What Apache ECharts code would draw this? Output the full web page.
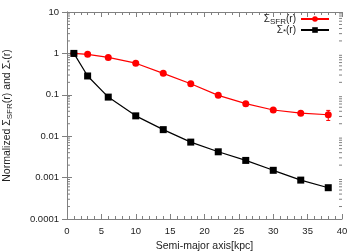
<!DOCTYPE html>
<html><head><meta charset="utf-8">
<script src="https://cdn.jsdelivr.net/npm/echarts@6/dist/echarts.min.js"></script>
<style>html,body{margin:0;padding:0;background:#fff}#c{width:360px;height:252px}</style>
</head><body><div id="c"></div>
<script>
const radius = [1, 3, 6, 10, 14, 18, 22, 26, 30, 34, 38];
const sigmaSFR = [1.0, 0.95, 0.80, 0.58, 0.33, 0.185, 0.097, 0.061, 0.043, 0.036, 0.033];
const sigmaSFRErr = [0, 0, 0, 0, 0, 0, 0, 0, 0.003, 0.004, 0.009];
const sigmaStar = [1.0, 0.285, 0.088, 0.031, 0.0144, 0.0072, 0.0042, 0.0026, 0.0015, 0.00087, 0.00057];
const yTickLabels = ['0.0001', '0.001', '0.01', '0.1', '1', '10'];
const xTicks = [0, 5, 10, 15, 20, 25, 30, 35, 40];

const FONT = '"Liberation Sans", Arial, sans-serif';
const AX = '#808080';
const TXT = '#222';

const minorVals = [];
for (let k = -4; k <= 0; k++) for (let m = 2; m <= 9; m++) minorVals.push([0, m * Math.pow(10, k)]);

const chart = echarts.init(document.getElementById('c'));
const axisBase = {
  axisLine: { show: true, lineStyle: { color: AX, width: 1 } },
  splitLine: { show: false }
};
const legRich = (pad) => ({ sub: { fontSize: 8, fontFamily: FONT, color: TXT, padding: [pad, 0, 0, 0] }, n: { fontSize: 10, fontFamily: FONT, color: TXT } });
chart.setOption({
  animation: false,
  grid: { left: 67, right: 18, top: 12, bottom: 33, containLabel: false, outerBoundsMode: 'none' },
  legend: [
    { data: ['sfr'], right: 30, top: 14, itemWidth: 28, itemHeight: 7, padding: 0,
      textStyle: { fontFamily: FONT, fontSize: 10, color: TXT, rich: legRich(5) },
      align: 'right', formatter: () => '{n|Σ}{sub|SFR}{n|(r)}' },
    { data: ['star'], right: 30, top: 25, itemWidth: 28, itemHeight: 7, padding: 0,
      textStyle: { fontFamily: FONT, fontSize: 10, color: TXT, rich: legRich(4) },
      align: 'right', formatter: () => '{n|Σ}{sub|*}{n|(r)}' }
  ],
  xAxis: [
    Object.assign({}, axisBase, {
      type: 'value', min: 0, max: 40, interval: 5, position: 'bottom',
      axisTick: { show: true, inside: true, length: 5, lineStyle: { color: AX } },
      minorTick: { show: true, splitNumber: 5, length: 3, lineStyle: { color: AX } },
      axisLabel: { fontFamily: FONT, fontSize: 9.5, color: TXT, margin: 7,
        formatter: v => xTicks.includes(v) ? String(v) : '' },
      name: 'Semi-major axis[kpc]', nameLocation: 'middle', nameGap: 20,
      nameTextStyle: { fontFamily: FONT, fontSize: 10.5, color: TXT }
    }),
    Object.assign({}, axisBase, {
      type: 'value', min: 0, max: 40, interval: 5, position: 'top',
      axisTick: { show: true, inside: true, length: 5, lineStyle: { color: AX } },
      minorTick: { show: true, splitNumber: 5, length: 3, lineStyle: { color: AX } },
      axisLabel: { show: false }
    })
  ],
  yAxis: [
    Object.assign({}, axisBase, {
      type: 'log', logBase: 10, min: 0.0001, max: 10, position: 'left',
      axisTick: { show: true, inside: true, length: 5, lineStyle: { color: AX } },
      axisLabel: { fontFamily: FONT, fontSize: 9.5, color: TXT, margin: 8,
        formatter: v => { const i = Math.round(Math.log10(v)) + 4; return yTickLabels[i] || ''; } },
      name: 'Normalized Σ{sub|SFR}(r) and Σ{sub|*}(r)', nameLocation: 'middle', nameGap: 53, nameRotate: 90,
      nameTextStyle: { fontFamily: FONT, fontSize: 10.5, color: TXT,
        rich: { sub: { fontSize: 8, fontFamily: FONT, color: TXT, padding: [5, 0, 0, 0] } } }
    }),
    Object.assign({}, axisBase, {
      type: 'log', logBase: 10, min: 0.0001, max: 10, position: 'right',
      axisTick: { show: true, inside: true, length: 5, lineStyle: { color: AX } },
      axisLabel: { show: false }
    })
  ],
  series: [
    {
      name: 'minor', type: 'custom', silent: true, z: 1,
      data: minorVals, encode: { x: 0, y: 1 },
      renderItem: (params, api) => {
        const cs = params.coordSys;
        const y = api.coord([0, api.value(1)])[1];
        const st = { stroke: AX, lineWidth: 1 };
        return { type: 'group', children: [
          { type: 'line', shape: { x1: cs.x, y1: y, x2: cs.x + 3, y2: y }, style: st },
          { type: 'line', shape: { x1: cs.x + cs.width - 3, y1: y, x2: cs.x + cs.width, y2: y }, style: st }
        ] };
      }
    },
    {
      name: 'sfrErr', type: 'custom', z: 3,
      data: radius.map((r, i) => [r, sigmaSFR[i] - sigmaSFRErr[i], sigmaSFR[i] + sigmaSFRErr[i]]),
      encode: { x: 0, y: [1, 2] },
      renderItem: (params, api) => {
        const x = api.value(0);
        const lo = api.coord([x, api.value(1)]);
        const hi = api.coord([x, api.value(2)]);
        const st = { stroke: '#ff0000', lineWidth: 1 };
        return { type: 'group', children: [
          { type: 'line', shape: { x1: lo[0], y1: lo[1], x2: hi[0], y2: hi[1] }, style: st },
          { type: 'line', shape: { x1: lo[0] - 2, y1: lo[1], x2: lo[0] + 2, y2: lo[1] }, style: st },
          { type: 'line', shape: { x1: hi[0] - 2, y1: hi[1], x2: hi[0] + 2, y2: hi[1] }, style: st }
        ] };
      }
    },
    {
      name: 'sfr', type: 'line', z: 4,
      data: radius.map((r, i) => [r, sigmaSFR[i]]),
      symbol: 'circle', symbolSize: 7,
      lineStyle: { color: '#ff0000', width: 1.2 },
      itemStyle: { color: '#ff0000' }
    },
    {
      name: 'star', type: 'line', z: 5,
      data: radius.map((r, i) => [r, sigmaStar[i]]),
      symbol: 'rect', symbolSize: 7,
      lineStyle: { color: '#000000', width: 1.2 },
      itemStyle: { color: '#000000' }
    }
  ]
});
</script>
</body></html>
